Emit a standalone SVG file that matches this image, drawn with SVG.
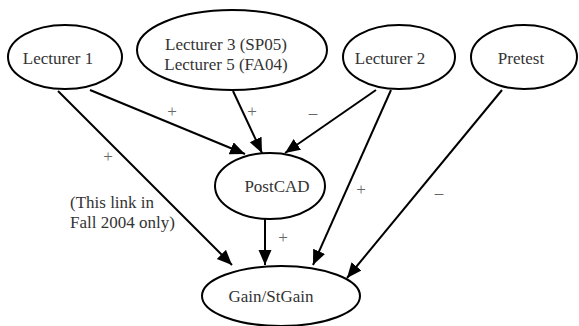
<svg xmlns="http://www.w3.org/2000/svg" width="579" height="326" viewBox="0 0 579 326">
<defs>
<marker id="arr" markerUnits="userSpaceOnUse" markerWidth="16" markerHeight="14" refX="15" refY="6.5" orient="auto">
<path d="M0,0 L15,6.5 L0,13 z" fill="#000"/>
</marker>
<style>
.node ellipse{fill:#fff;stroke:#000;stroke-width:2}
text{font-family:'Liberation Serif',serif;font-size:17px}
.node text{fill:#333;text-anchor:middle}
.edge line{stroke:#000;stroke-width:2;marker-end:url(#arr)}
.lbl{fill:#666;text-anchor:middle}
.note{fill:#333}
</style>
</defs>
<rect width="579" height="326" fill="#fff"/>
<g id="connectors" class="edge">
<line x1="90" y1="90" x2="245" y2="154"/>
<line x1="233" y1="91" x2="262" y2="153"/>
<line x1="376" y1="90" x2="285" y2="153"/>
<line x1="58" y1="91" x2="232" y2="265"/>
<line x1="265" y1="219" x2="265" y2="265"/>
<line x1="391" y1="90" x2="313" y2="265"/>
<line x1="502" y1="90" x2="347" y2="278"/>
</g>
<g id="edge-labels">
<text class="lbl" x="172" y="117">+</text>
<text class="lbl" x="252" y="117">+</text>
<text class="lbl" x="313" y="118">–</text>
<text class="lbl" x="108" y="162">+</text>
<text class="lbl" x="361" y="195">+</text>
<text class="lbl" x="439" y="198">–</text>
<text class="lbl" x="283" y="243">+</text>
<text class="note" x="70" y="208">(This link in</text>
<text class="note" x="70" y="228">Fall 2004 only)</text>
</g>
<g id="lecturer1" class="node">
<ellipse cx="65" cy="57" rx="57" ry="32"/>
<text x="58" y="64">Lecturer 1</text>
</g>
<g id="lecturer35" class="node">
<ellipse cx="232" cy="50" rx="95" ry="40"/>
<text x="226" y="50">Lecturer 3 (SP05)</text>
<text x="226" y="70">Lecturer 5 (FA04)</text>
</g>
<g id="lecturer2" class="node">
<ellipse cx="399" cy="57" rx="56" ry="32"/>
<text x="390" y="64">Lecturer 2</text>
</g>
<g id="pretest" class="node">
<ellipse cx="524" cy="57" rx="53" ry="32"/>
<text x="521" y="64">Pretest</text>
</g>
<g id="postcad" class="node">
<ellipse cx="270" cy="186" rx="55" ry="33"/>
<text x="277" y="192">PostCAD</text>
</g>
<g id="gain" class="node">
<ellipse cx="281" cy="296" rx="79" ry="30"/>
<text x="271" y="302">Gain/StGain</text>
</g>
</svg>
